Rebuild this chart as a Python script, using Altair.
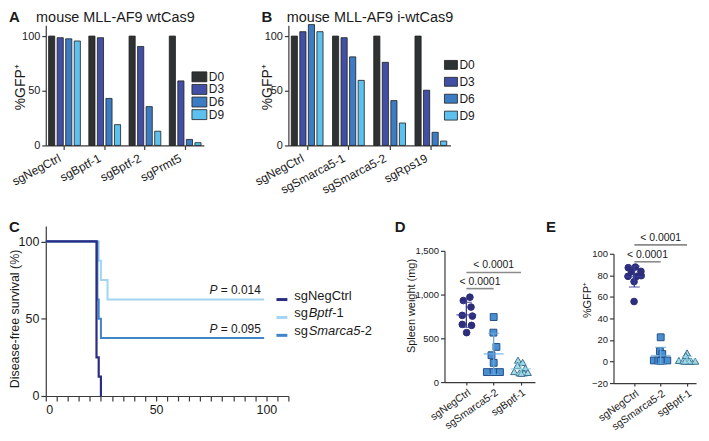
import altair as alt
import pandas as pd

FONT = "Liberation Sans"

# ---------------- Panel A ----------------
days = ["D0", "D3", "D6", "D9"]
day_colors = ["#2f3233", "#4150a4", "#3c7cc3", "#5cc1ef"]
a_guides = ["sgNegCtrl", "sgBptf-1", "sgBptf-2", "sgPrmt5"]
a_d0 = [100, 100, 100, 100]
a_d3 = [98.5, 98.5, 90.5, 59]
a_d6 = [97.5, 43, 35.5, 5.5]
a_d9 = [95.5, 19, 13, 2.5]

# ---------------- Panel B ----------------
b_guides = ["sgNegCtrl", "sgSmarca5-1", "sgSmarca5-2", "sgRps19"]
b_d0 = [100, 100, 100, 100]
b_d3 = [104, 98.5, 76, 50.5]
b_d6 = [110.5, 81, 41, 12]
b_d9 = [104, 59.5, 20.5, 4]

# ---------------- Panel C ----------------
km_groups = ["sgNegCtrl", "sgBptf-1", "sgSmarca5-2"]
km_colors = ["#2a2d82", "#a3d5f0", "#3e86c8"]
km_negctrl_t = [0, 23, 24, 25]
km_negctrl_s = [100, 25, 12.5, 0]
km_bptf_t = [0, 24, 25, 28, 99]
km_bptf_s = [100, 87.5, 75, 62.5, 62.5]
km_smarca_t = [0, 23.4, 24, 25, 99]
km_smarca_s = [100, 62.5, 50, 37.5, 37.5]
p_labels = ["= 0.014", "= 0.095"]
p_levels = [62.5, 37.5]

# ---------------- Panels D / E ----------------
de_groups = ["sgNegCtrl", "sgSmarca5-2", "sgBptf-1"]
de_shapes = ["circle", "square", "triangle-up"]
de_fill = ["#2c2e7c", "#4a90d0", "#a6dbe4"]
de_stroke = ["#2c2e7c", "#24508a", "#3a6f90"]
de_err = ["#3a3e94", "#65a8de", "#8fcfe0"]

d_negctrl = [970, 932, 857, 762, 754, 659, 648, 565]
d_negctrl_jit = [0.13, -0.11, 0.17, -0.15, 0.22, -0.15, 0.19, 0.01]
d_smarca = [743, 565, 402, 307, 220, 114, 114, 114]
d_smarca_jit = [0.0, -0.01, 0.1, -0.08, 0.0, -0.25, 0.0, 0.23]
d_bptf = [250, 225, 190, 160, 120, 105, 105, 110, 100]
d_bptf_jit = [-0.11, 0.06, -0.13, 0.16, -0.25, -0.06, 0.11, 0.25, 0.01]
d_sig_from = [0, 0]
d_sig_to = [2, 1]
d_sig_y = [1253, 1068]

e_negctrl = [87.1, 87.7, 83.7, 83.4, 79.1, 79.1, 79.7, 74.2, 55.7]
e_negctrl_jit = [-0.23, 0.04, 0.25, -0.11, -0.24, 0.09, 0.26, -0.01, -0.01]
e_smarca = [22.5, 9.5, 7, 1, 1, 1, 1, 0.5]
e_smarca_jit = [0.0, -0.03, 0.06, -0.26, -0.09, 0.09, 0.25, 0.0]
e_bptf = [8, 5.5, 1, 0.5, 0.3, 0.3, 0.3, 0.3, 0.3]
e_bptf_jit = [0.0, -0.05, -0.31, -0.15, 0.0, 0.15, 0.31, 0.08, -0.08]
e_sig_from = [0, 0]
e_sig_to = [2, 1]
e_sig_y = [108.3, 92.6]
sig_text = ["< 0.0001", "< 0.0001"]

ONE = pd.DataFrame({"k": [0]})
AX = "#3a3a3a"


def text_at(txt, x, y, size=13, weight="normal", style="normal", align="left", baseline="middle"):
    return alt.Chart(ONE).mark_text(
        text=txt, fontSize=size, fontWeight=weight, fontStyle=style,
        align=align, baseline=baseline, color="#1a1a1a",
    ).encode(x=alt.value(x), y=alt.value(y))


def bar_panel(guides, d0, d3, d6, d9, width, title, title_x, letter, letter_x, ytitle_x,
              leg_sym_x, leg_txt_x, leg_y0, leg_y1, leg_path, leg_size, leg_font):
    rows = []
    for g, v0, v3, v6, v9 in zip(guides, d0, d3, d6, d9):
        for d, v in zip(days, [v0, v3, v6, v9]):
            rows.append({"guide": g, "day": d, "value": v})
    df = pd.DataFrame(rows)
    color = alt.Color("day:N", sort=days, scale=alt.Scale(domain=days, range=day_colors),
                      legend=None)
    bars = alt.Chart(df).mark_bar(stroke="#1e1e1e", strokeWidth=0.8).encode(
        x=alt.X("guide:N", sort=guides, title=None,
                scale=alt.Scale(paddingInner=0.21, paddingOuter=0.07),
                axis=alt.Axis(labelAngle=-28, labelFontSize=12, tickSize=4,
                              labelPadding=3, labelOffset=-7, labelOverlap=False,
                              domainColor=AX, tickColor=AX)),
        xOffset=alt.XOffset("day:N", sort=days,
                            scale=alt.Scale(paddingInner=0.28, paddingOuter=0)),
        y=alt.Y("value:Q", scale=alt.Scale(domain=[0, 110], nice=False),
                axis=alt.Axis(values=[0, 50, 100], title="%GFP⁺", titleX=ytitle_x,
                              titleY=62, titleAngle=270, titleAlign="center",
                              titleBaseline="middle", titleFontSize=14,
                              labelFontSize=11, tickSize=4, labelPadding=2,
                              domainColor=AX, tickColor=AX)),
        color=color,
    )
    # legend built as marks (days listed on their own point scale)
    leg_df = pd.DataFrame({"day": days})
    leg_y = alt.Y("day:N", sort=days, axis=None,
                  scale=alt.Scale(type="point", range=[leg_y0, leg_y1], padding=0))
    leg_sym = alt.Chart(leg_df).mark_point(
        shape=leg_path, size=leg_size, filled=True, opacity=1,
        stroke="#1e1e1e", strokeWidth=0.8,
    ).encode(x=alt.value(leg_sym_x), y=leg_y, color=color)
    leg_txt = alt.Chart(leg_df).mark_text(
        align="left", baseline="middle", fontSize=leg_font, color="#1a1a1a",
    ).encode(x=alt.value(leg_txt_x), y=leg_y, text="day:N")
    legend = alt.layer(leg_sym, leg_txt)
    return alt.layer(
        bars,
        legend,
        text_at(title, title_x, -7.5, size=14.5, align="center"),
        text_at(letter, letter_x, -15, size=15, weight="bold", baseline="top"),
    ).resolve_scale(y="independent").properties(width=width, height=121)


panel_a = bar_panel(a_guides, a_d0, a_d3, a_d6, a_d9, 159, "mouse MLL-AF9 wtCas9",
                    70, "A", -37, -25, 154.5, 164, 52, 90,
                    "M-1.5,-1L1.5,-1L1.5,1L-1.5,1Z", 100, 12)
panel_b = bar_panel(b_guides, b_d0, b_d3, b_d6, b_d9, 163, "mouse MLL-AF9 i-wtCas9",
                    82, "B", -27, -21, 163.5, 172, 40, 91,
                    "M-1.45,-1L1.45,-1L1.45,1L-1.45,1Z", 81, 12)

# ---------------- Panel C ----------------
km_rows = []
for grp, ts, ss in [("sgBptf-1", km_bptf_t, km_bptf_s),
                    ("sgSmarca5-2", km_smarca_t, km_smarca_s),
                    ("sgNegCtrl", km_negctrl_t, km_negctrl_s)]:
    for t, s in zip(ts, ss):
        km_rows.append({"group": grp, "t": t, "s": s})
km_df = pd.DataFrame(km_rows)

cx = alt.X("t:Q", scale=alt.Scale(domain=[0, 110], nice=False), title=None,
           axis=alt.Axis(values=list(range(0, 111, 5)),
                         labelExpr="datum.value % 50 === 0 ? datum.label : ''",
                         labelFontSize=12.5, tickSize=5, labelPadding=3,
                         domainColor=AX, tickColor=AX))
cy = alt.Y("s:Q", scale=alt.Scale(domain=[0, 110], nice=False),
           axis=alt.Axis(values=[0, 50, 100], title="Disease-free survival (%)",
                         titleX=-31, titleY=93, titleAngle=270, titleAlign="center",
                         titleBaseline="middle", titleFontSize=12.5, labelFontSize=12.5,
                         tickSize=5, labelPadding=2, domainColor=AX, tickColor=AX))

c_layers = []
for grp, col, w in [("sgBptf-1", km_colors[1], 2.0), ("sgSmarca5-2", km_colors[2], 2.0),
                    ("sgNegCtrl", km_colors[0], 2.2)]:
    c_layers.append(
        alt.Chart(km_df).transform_filter(alt.datum.group == grp)
        .mark_line(interpolate="step-after", color=col, strokeWidth=w)
        .encode(x=cx, y=cy)
    )

p_df = pd.DataFrame({"t": [97.5, 97.5], "s": p_levels, "txt": p_labels})
c_layers.append(alt.Chart(p_df).mark_text(align="right", baseline="alphabetic", dy=-5,
                                          fontSize=12, color="#1a1a1a")
                .encode(x=cx, y=cy, text="txt:N"))
c_layers.append(alt.Chart(p_df).mark_text(align="right", baseline="alphabetic", dy=-5,
                                          dx=-43.5, fontSize=12, fontStyle="italic",
                                          color="#1a1a1a", text="P")
                .encode(x=cx, y=cy))

# custom legend for C (mixed italic labels)
leg_rows_y = [70, 88, 106]
for (yy, col) in zip(leg_rows_y, km_colors):
    c_layers.append(alt.Chart(ONE).mark_rule(color=col, strokeWidth=3)
                    .encode(x=alt.value(232), x2=alt.value(243), y=alt.value(yy + 4)))
c_layers.append(text_at("sgNegCtrl", 250, leg_rows_y[0], size=13))
c_layers.append(text_at("sg", 250, leg_rows_y[1], size=13))
c_layers.append(text_at("Bptf", 264.5, leg_rows_y[1], size=13, style="italic"))
c_layers.append(text_at("-1", 288, leg_rows_y[1], size=13))
c_layers.append(text_at("sg", 250, leg_rows_y[2], size=13))
c_layers.append(text_at("Smarca5", 264.5, leg_rows_y[2], size=13, style="italic"))
c_layers.append(text_at("-2", 316.5, leg_rows_y[2], size=13))
c_layers.append(text_at("C", -37, -6, size=15, weight="bold", baseline="top"))

panel_c = alt.layer(*c_layers).properties(width=244, height=171)


# ---------------- Panels D / E ----------------
def dot_panel(vals, jits, domain_x, ydomain, yrange, yvalues, yfmt, ytitle, ytitle_x,
              ytitle_y, sig_y, sig_from, sig_to, letter, letter_x, width, height):
    rows = []
    for i, (grp, vs, js) in enumerate(zip(de_groups, vals, jits)):
        for v, j in zip(vs, js):
            rows.append({"grp": grp, "idx": i, "xpos": i + j, "value": v})
    df = pd.DataFrame(rows)
    label_expr = "datum.value == 0 ? '%s' : datum.value == 1 ? '%s' : '%s'" % tuple(de_groups)
    xenc = lambda f: alt.X(f, scale=alt.Scale(domain=domain_x, nice=False), title=None,
                           axis=alt.Axis(values=[0, 1, 2], labelExpr=label_expr,
                                         labelAngle=-35, labelFontSize=10.5, tickSize=3,
                                         labelPadding=2, labelOverlap=False,
                                         domainColor=AX, tickColor=AX))
    yenc = lambda f: alt.Y(f, scale=alt.Scale(domain=ydomain, range=yrange, nice=False),
                           axis=alt.Axis(values=yvalues, format=yfmt, title=ytitle,
                                         titleX=ytitle_x, titleY=ytitle_y, titleAngle=270,
                                         titleAlign="center", titleBaseline="middle",
                                         titleFontSize=11, labelFontSize=9.5, tickSize=4,
                                         labelPadding=2, labelOverlap=False,
                                         domainColor=AX, tickColor=AX))
    gcol = alt.Color("grp:N", scale=alt.Scale(domain=de_groups, range=de_err), legend=None)
    pts = alt.Chart(df).mark_point(filled=True, opacity=1, strokeWidth=1).encode(
        x=xenc("xpos:Q"), y=yenc("value:Q"),
        shape=alt.Shape("grp:N", scale=alt.Scale(domain=de_groups, range=de_shapes), legend=None),
        fill=alt.Fill("grp:N", scale=alt.Scale(domain=de_groups, range=de_fill), legend=None),
        stroke=alt.Stroke("grp:N", scale=alt.Scale(domain=de_groups, range=de_stroke), legend=None),
        size=alt.Size("grp:N", scale=alt.Scale(domain=de_groups, range=[45, 50, 45]), legend=None),
    )
    agg = alt.Chart(df).transform_aggregate(
        m="mean(value)", sd="stdev(value)", groupby=["grp", "idx"]
    ).transform_calculate(lo="datum.m - datum.sd", hi="datum.m + datum.sd")
    rule = agg.mark_rule(strokeWidth=1.3).encode(x=xenc("idx:Q"), y=yenc("lo:Q"), y2="hi:Q", color=gcol)
    cap_hi = agg.mark_tick(orient="horizontal", size=11, thickness=1.3).encode(
        x=xenc("idx:Q"), y=yenc("hi:Q"), color=gcol)
    cap_lo = agg.mark_tick(orient="horizontal", size=11, thickness=1.3).encode(
        x=xenc("idx:Q"), y=yenc("lo:Q"), color=gcol)
    mean = agg.mark_tick(orient="horizontal", size=20, thickness=1.5).encode(
        x=xenc("idx:Q"), y=yenc("m:Q"), color=gcol)
    sig_df = pd.DataFrame({"a": sig_from, "b": sig_to, "y": sig_y, "txt": sig_text})
    sig_df["mid"] = (sig_df["a"] + sig_df["b"]) / 2
    sig_rule = alt.Chart(sig_df).mark_rule(color="#8a8a8a", strokeWidth=1.6).encode(
        x=xenc("a:Q"), x2="b:Q", y=yenc("y:Q"))
    sig_txt = alt.Chart(sig_df).mark_text(baseline="bottom", dy=-2, fontSize=10.5,
                                          color="#1a1a1a").encode(
        x=xenc("mid:Q"), y=yenc("y:Q"), text="txt:N")
    return alt.layer(
        pts, rule, cap_hi, cap_lo, mean, sig_rule, sig_txt,
        text_at(letter, letter_x, -6, size=15, weight="bold", baseline="top"),
    ).resolve_scale(color="independent").properties(width=width, height=height)


panel_d = dot_panel([d_negctrl, d_smarca, d_bptf], [d_negctrl_jit, d_smarca_jit, d_bptf_jit],
                    [-0.8, 2.51], [0, 1500], [157, 25], [0, 500, 1000, 1500], ",.0f",
                    "Spleen weight (mg)", -33, 80, d_sig_y, d_sig_from, d_sig_to,
                    "D", -50, 91, 157)
panel_e = dot_panel([e_negctrl, e_smarca, e_bptf], [e_negctrl_jit, e_smarca_jit, e_bptf_jit],
                    [-0.79, 2.34], [-20, 100], [158, 28], [-20, 0, 20, 40, 60, 80, 100], "d",
                    "%GFP⁺", -26, 74, e_sig_y, e_sig_from, e_sig_to,
                    "E", -68, 83, 158)

top = alt.hconcat(panel_a, panel_b, spacing=85, bounds="flush")
bottom = alt.hconcat(panel_c, alt.hconcat(panel_d, panel_e, spacing=79, bounds="flush"),
                     spacing=157, bounds="flush")

# nested concat rows report no height under flush bounds: spacing = row height + gap
chart = alt.vconcat(top, bottom, spacing=202, bounds="flush").properties(
    padding=0
).configure(font=FONT).configure_view(stroke=None).configure_axis(
    grid=False, labelColor="#1a1a1a", titleColor="#1a1a1a", titleFontWeight="normal",
    domainWidth=1.2, tickWidth=1.2
)

chart.save("out.html", embed_options={"renderer": "svg", "actions": False})
